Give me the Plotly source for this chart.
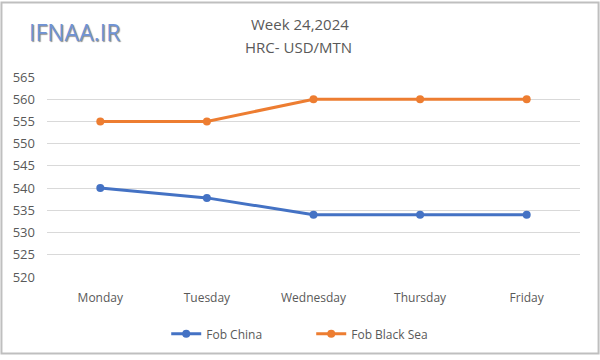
import plotly.graph_objects as go

days = ["Monday", "Tuesday", "Wednesday", "Thursday", "Friday"]
fob_china = [540, 537.8, 534, 534, 534]
fob_black_sea = [555, 555, 560, 560, 560]
y_ticks = [520, 525, 530, 535, 540, 545, 550, 555, 560, 565]

FONT = "Open Sans"
GRAY = "#595959"

fig = go.Figure()
fig.add_trace(go.Scatter(x=days, y=fob_china, name="Fob China", mode="lines+markers",
                         line=dict(color="#4472C4", width=3), marker=dict(size=8, color="#4472C4")))
fig.add_trace(go.Scatter(x=days, y=fob_black_sea, name="Fob Black Sea", mode="lines+markers",
                         line=dict(color="#ED7D31", width=3), marker=dict(size=8, color="#ED7D31")))

L, R, T, B = 46.6, 19.6, 77, 79
W, H = 600, 360
pw, ph = W - L - R, H - T - B

def px(x):
    return (x - L) / pw

def py(y):
    return (H - B - y) / ph

fig.update_layout(
    width=W, height=H,
    margin=dict(l=L, r=R, t=T, b=B),
    paper_bgcolor="white", plot_bgcolor="white",
    font=dict(family=FONT, size=12, color=GRAY),
    showlegend=True,
    legend=dict(orientation="h", x=px(166), xanchor="left", y=py(339), yanchor="middle",
                font=dict(size=12, color=GRAY), entrywidth=100),
    xaxis=dict(type="category", range=[-0.5, 4.5], showgrid=False, showline=False,
               ticks="", tickfont=dict(size=12, color=GRAY), ticklabelstandoff=12),
    yaxis=dict(range=[520, 565], tickvals=y_ticks, showgrid=True, gridcolor="#D9D9D9",
               gridwidth=1, zeroline=False, showline=False, ticks="",
               tickfont=dict(size=13, color=GRAY), ticklabelstandoff=11),
    annotations=[
        dict(text="Week 24,2024", x=px(300), y=py(23), xref="paper", yref="paper",
             showarrow=False, font=dict(size=15, color=GRAY), xanchor="center", yanchor="middle"),
        dict(text="HRC- USD/MTN", x=px(298), y=py(46), xref="paper", yref="paper",
             showarrow=False, font=dict(size=15, color=GRAY), xanchor="center", yanchor="middle"),
        dict(text="IFNAA.IR", x=px(27), y=py(31), xref="paper", yref="paper",
             showarrow=False, font=dict(size=23, color="#6F93D6", family=FONT,
                                        shadow="1px 1px 1px #8a8a8a"),
             xanchor="left", yanchor="middle"),
    ],
    shapes=[
        dict(type="rect", xref="paper", yref="paper", x0=px(1), x1=px(W - 1), y0=py(1), y1=py(H - 1),
             line=dict(color="#BFBFBF", width=2), fillcolor="rgba(0,0,0,0)", layer="below"),
    ],
)

fig.write_html("out.html", config={"displayModeBar": False},
               post_script="document.body.style.margin='0';document.body.style.overflow='hidden';")
